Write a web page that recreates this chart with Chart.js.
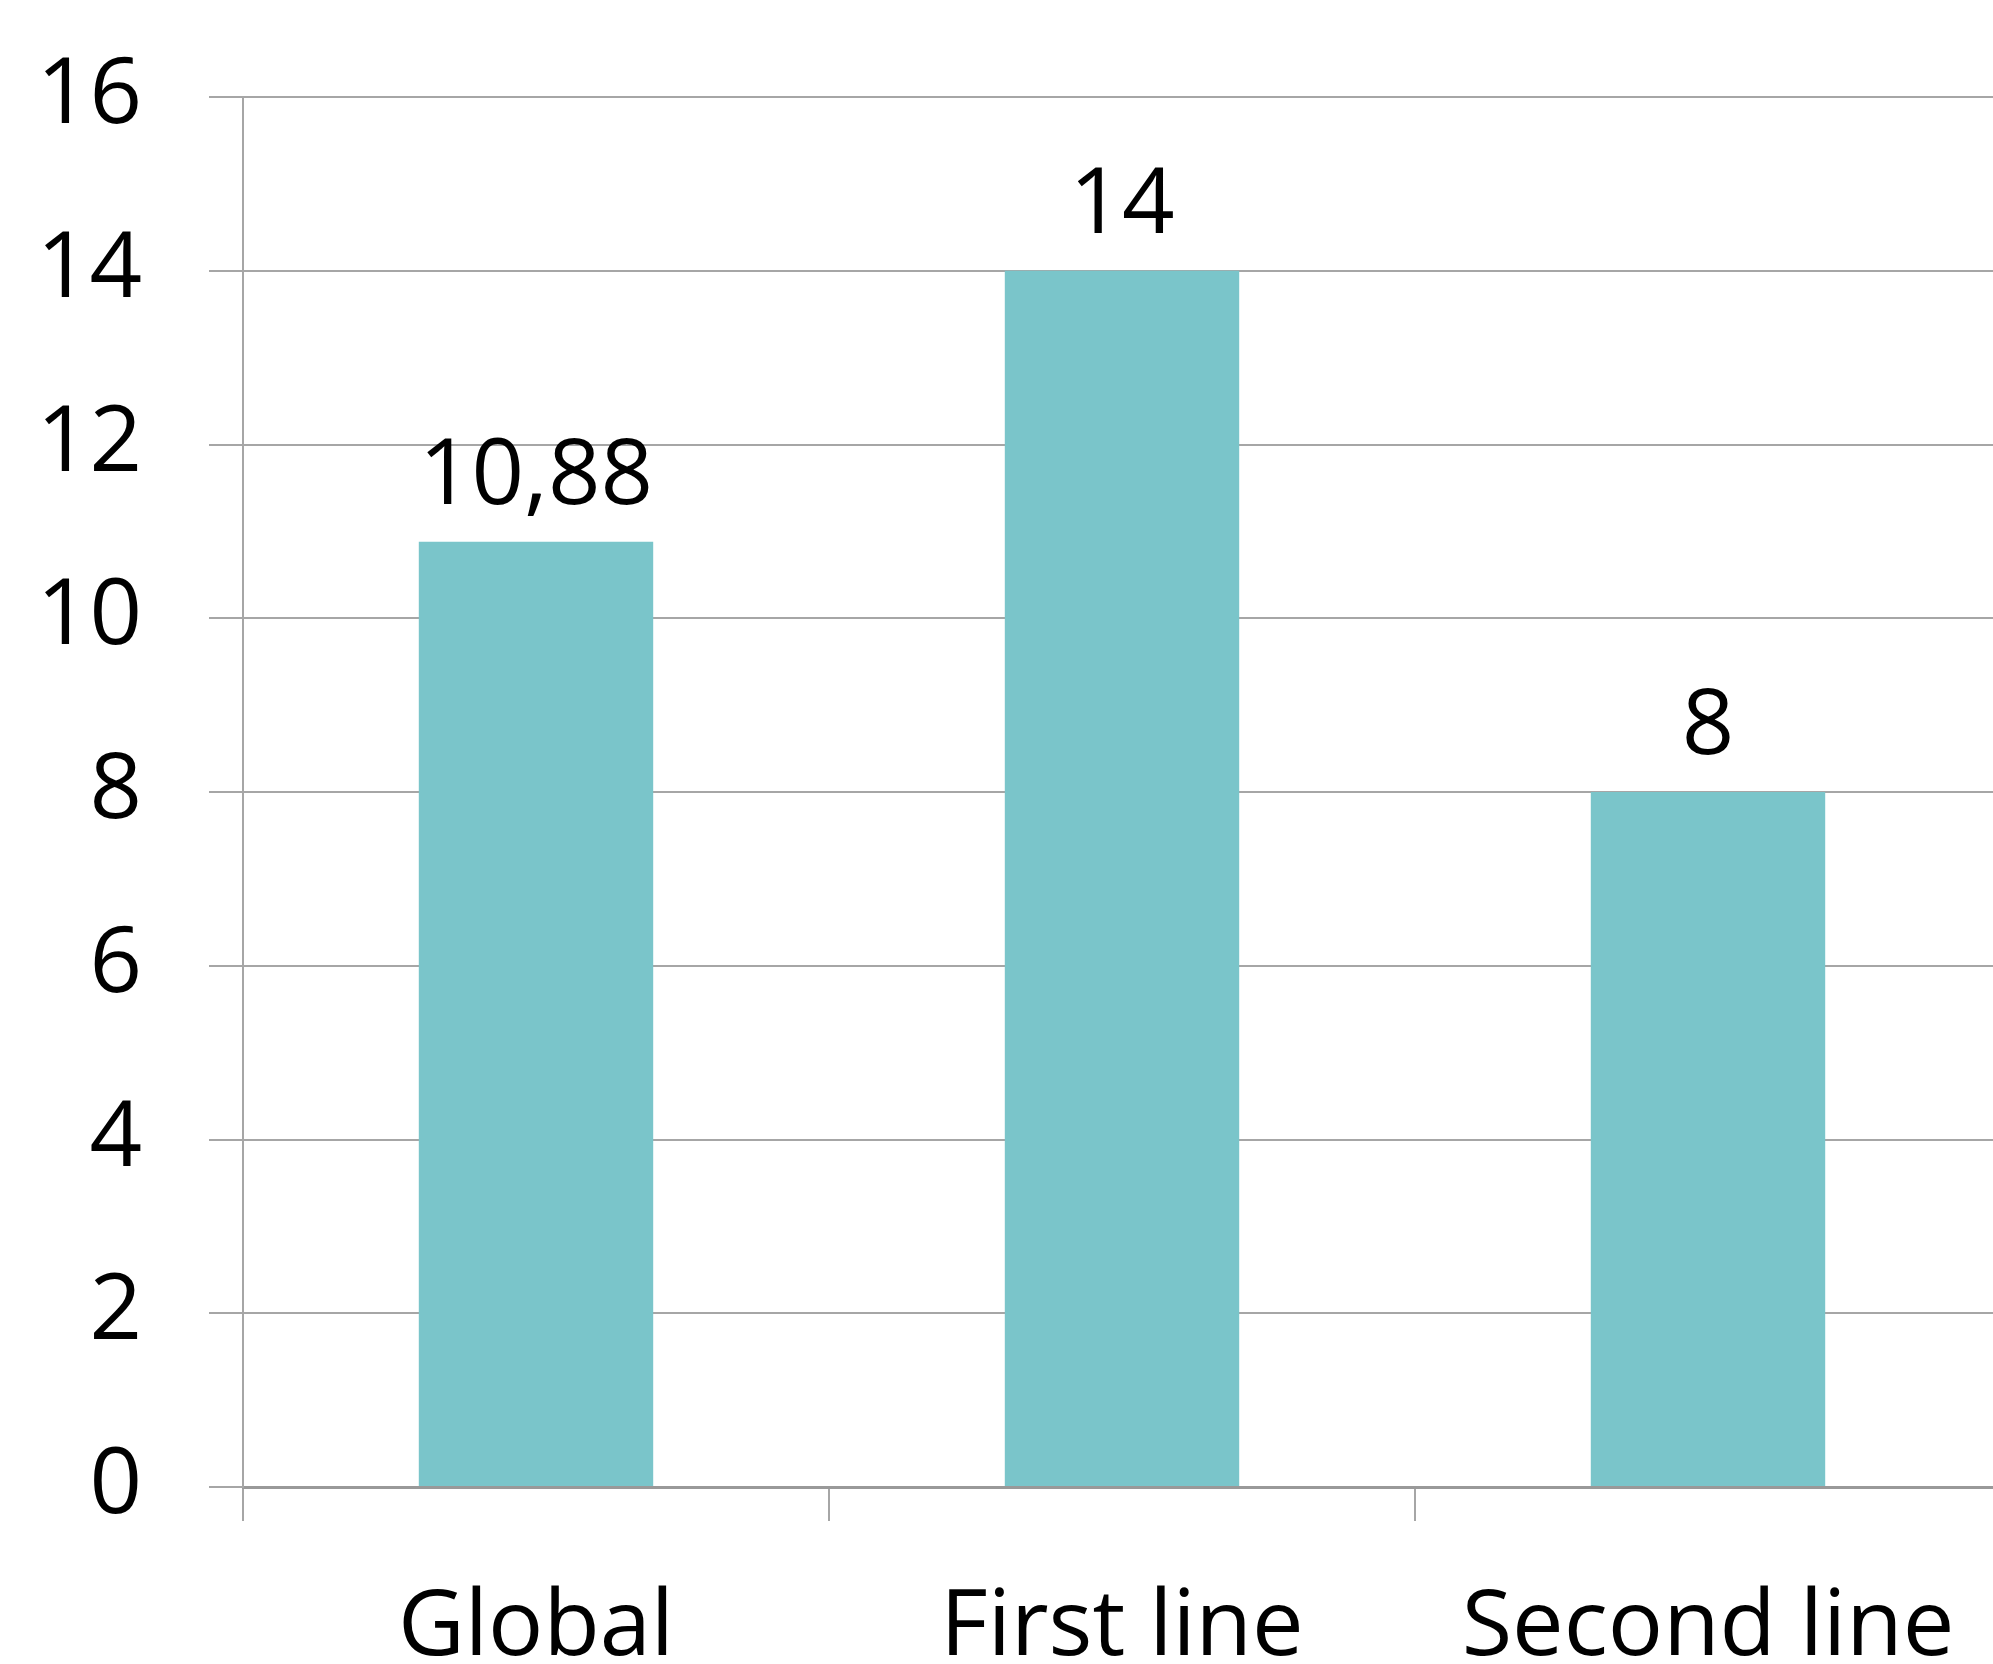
<!DOCTYPE html>
<html>
<head>
<meta charset="utf-8">
<script src="https://cdn.jsdelivr.net/npm/chart.js@4"></script>
<style>
  html, body { margin: 0; padding: 0; background: #fff; overflow: hidden; width: 1993px; height: 1664px; }
  canvas { display: block; }
</style>
</head>
<body>
<canvas id="chart" width="2010" height="1664"></canvas>
<script>
// bar chart: three groups, single series, comma decimals
const categories = ["Global", "First line", "Second line"];
const values = [10.88, 14, 8];
const yTicks = { min: 0, max: 16, step: 2 };

const C = { bar: "#7AC5CA", grid: "#A6A6A6", axis: "#999999", text: "#000000" };
const FONT = "'Open Sans', 'Noto Sans', sans-serif";
const SIZE = 92;

const fmt = (v) => String(v).replace(".", ",");

// draws the value above each bar (no datalabels plugin available offline)
const valueLabels = {
  id: "valueLabels",
  afterDatasetsDraw(chart) {
    const ctx = chart.ctx;
    const meta = chart.getDatasetMeta(0);
    ctx.save();
    ctx.font = `${SIZE}px ${FONT}`;
    ctx.fillStyle = C.text;
    ctx.textAlign = "center";
    ctx.textBaseline = "alphabetic";
    meta.data.forEach((bar, i) => ctx.fillText(fmt(values[i]), bar.x, bar.y - 38));
    ctx.restore();
  },
};

new Chart(document.getElementById("chart"), {
  type: "bar",
  data: {
    labels: categories,
    datasets: [{ data: values, backgroundColor: C.bar, borderWidth: 0, barPercentage: 1, categoryPercentage: 0.4 }],
  },
  options: {
    responsive: false, animation: false, devicePixelRatio: 1,
    layout: { padding: { top: 97, left: 0, right: 9, bottom: 0 } },
    plugins: { legend: { display: false }, tooltip: { enabled: false } },
    scales: {
      x: {
        grid: { drawOnChartArea: false, drawTicks: true, tickLength: 34, offset: true, color: C.grid, lineWidth: 2 },
        border: { display: true, color: C.axis, width: 3 },
        ticks: { color: C.text, padding: 53, font: { family: FONT, size: SIZE, lineHeight: 1.2 } },
        afterFit: (s) => { s.height = 177; },
      },
      y: {
        min: yTicks.min, max: yTicks.max,
        grid: { color: C.grid, lineWidth: 2, tickLength: 34 },
        border: { display: true, color: C.grid, width: 2 },
        ticks: { stepSize: yTicks.step, color: C.text, padding: 67, font: { family: FONT, size: SIZE, lineHeight: 1.2 } },
        afterFit: (s) => { s.width = 243; s.paddingTop = 0; s.paddingBottom = 0; },
      },
    },
  },
  plugins: [valueLabels],
});
</script>
</body>
</html>
